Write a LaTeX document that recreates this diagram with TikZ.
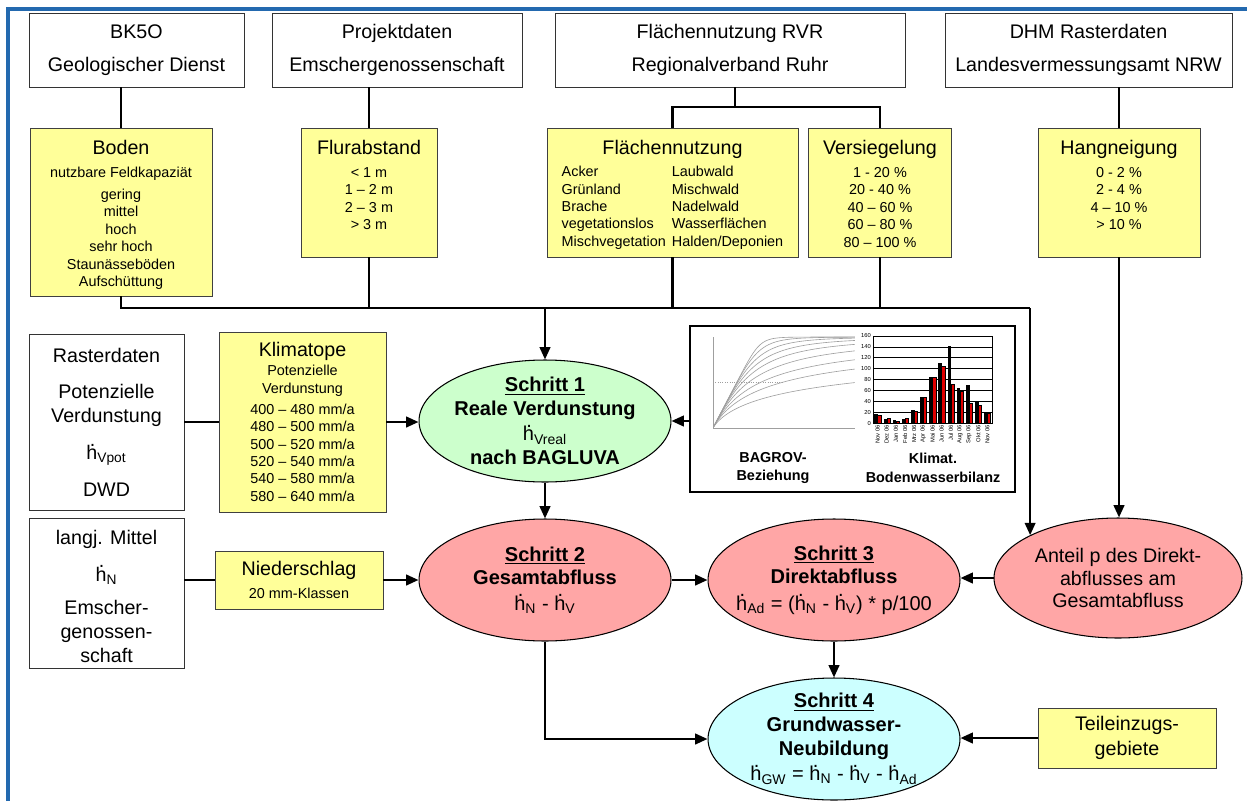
\documentclass[tikz,border=0pt]{standalone}
\usepackage{fontspec}
\setmainfont{Liberation Sans}
\usepackage{tikz}
\usetikzlibrary{arrows.meta,positioning,calc,shapes.geometric}
\usepackage{xcolor}
\definecolor{frameblue}{RGB}{35,105,175}
\definecolor{boxyellow}{RGB}{255,255,153}
\definecolor{stepgreen}{RGB}{204,255,204}
\definecolor{stepred}{RGB}{255,166,166}
\definecolor{stepcyan}{RGB}{204,255,255}
\definecolor{barred}{RGB}{225,0,0}

\newcommand{\hdt}{\makebox[0pt][l]{\hspace{0.17em}\raisebox{0.68em}{.}}h}
\newcommand{\bigf}{\fontsize{11.2}{13.8}\selectfont}
\newcommand{\smallf}{\fontsize{8.2}{9.9}\selectfont}

\begin{document}
\begin{tikzpicture}[x=0.02cm, y=-0.02cm,
    quelle/.style={draw=black!80, line width=0.5pt, fill=white, align=center, font=\bigf, inner sep=0pt},
    gelb/.style={draw=black!75, line width=0.5pt, fill=boxyellow, align=center, font=\smallf, inner sep=0pt},
    gelbtext/.style={align=center, font=\smallf, inner sep=0pt},
    schritt/.style={ellipse, draw=black, line width=0.6pt, align=center, inner sep=-25pt,
        minimum width=5.04cm, minimum height=2.44cm, font=\fontsize{11.4}{13.5}\selectfont\bfseries},
    verb/.style={line width=1.3pt},
    pfeil/.style={line width=1.3pt, -{Triangle[length=7pt,width=6pt]}}]

    \useasboundingbox (0,0) rectangle (1247,801);
    % Frame
    \draw[frameblue, line width=2.2pt] (8,801) -- (8,9) -- (1247,9);

    % Data sources
    \node[quelle, minimum width=4.3cm, minimum height=1.48cm] (bk) at (136.5,50) {BK5O\\[5pt]Geologischer Dienst};
    \node[quelle, minimum width=5cm, minimum height=1.48cm] (proj) at (397,50) {Projektdaten\\[5pt]Emschergenossenschaft};
    \node[quelle, minimum width=7cm, minimum height=1.48cm] (rvr) at (730,50) {Flächennutzung RVR\\[5pt]Regionalverband Ruhr};
    \node[quelle, minimum width=5.74cm, minimum height=1.48cm] (dhm) at (1088.5,50) {DHM Rasterdaten\\[5pt]Landesvermessungsamt NRW};

    % Parameters
    \node[gelb, minimum width=3.64cm, minimum height=3.36cm] (boden) at (121,212) {};
    \node[gelbtext, below=0.25cm of boden.north] (bodentxt)
        {{\bigf Boden}\\[3.1pt]nutzbare Feldkapaziät\\[2.6pt]gering\\mittel\\hoch\\sehr hoch\\Staunässeböden\\Aufschüttung};
    \node[gelb, minimum width=2.72cm, minimum height=2.58cm] (flur) at (369,192.5) {};
    \node[gelbtext, below=0.25cm of flur.north] (flurtxt)
        {{\bigf Flurabstand}\\[3.1pt]< 1 m\\1 – 2 m\\2 – 3 m\\> 3 m};
    \node[gelb, minimum width=5.02cm, minimum height=2.58cm] (flaeche) at (672.5,192.5) {};
    \node[gelbtext, below=0.25cm of flaeche.north] (flaechetxt)
        {{\bigf Flächennutzung}\\[2.6pt]\begin{tabular}[t]{@{}l@{\hspace{3.5pt}}l@{}}
        Acker & Laubwald\\Grünland & Mischwald\\Brache & Nadelwald\\
        vegetationslos & Wasserflächen\\Mischvegetation & Halden/Deponien\end{tabular}};
    \node[gelb, minimum width=2.86cm, minimum height=2.58cm] (versieg) at (880,192.5) {};
    \node[gelbtext, below=0.25cm of versieg.north] (versiegtxt)
        {{\bigf Versiegelung}\\[3.1pt]1 - 20 \%\\20 - 40 \%\\40 – 60 \%\\60 – 80 \%\\80 – 100 \%};
    \node[gelb, minimum width=3.24cm, minimum height=2.58cm] (hang) at (1119,192.5) {};
    \node[gelbtext, below=0.25cm of hang.north] (hangtxt)
        {{\bigf Hangneigung}\\[3.1pt]0 - 2 \%\\2 - 4 \%\\4 – 10 \%\\> 10 \%};

    \node[quelle, minimum width=3.1cm, minimum height=3.52cm] (raster) at (106.5,422)
        {Rasterdaten\\[6.8pt]Potenzielle\\Verdunstung\\[7.5pt]\hdt\textsubscript{Vpot}\\[6.8pt]DWD};
    \node[gelb, minimum width=3.34cm, minimum height=3.6cm] (klima) at (302.5,422)
        {{\bigf Klimatope}\\[0.9pt]Potenzielle\\Verdunstung\\[2pt]400 – 480 mm/a\\480 – 500 mm/a\\500 – 520 mm/a\\520 – 540 mm/a\\540 – 580 mm/a\\580 – 640 mm/a};
    \node[quelle, minimum width=3.1cm, minimum height=3cm] (langj) at (106.5,593) {};
    \node[align=center, font=\bigf, inner sep=0pt, below=0.24cm of langj.north] (langjtxt)
        {langj. Mittel\\[7.3pt]\hdt\textsubscript{N}\\[5pt]Emscher-\\genossen-\\schaft};
    \node[gelb, minimum width=3.36cm, minimum height=1.16cm] (nieder) at (299,580)
        {{\bigf Niederschlag}\\[3.1pt]20 mm-Klassen};
    \node[gelb, font=\bigf, minimum width=3.56cm, minimum height=1.2cm] (teil) at (1127,738) {Teileinzugs-\\gebiete};

    % Steps
    \node[schritt, fill=stepgreen] (s1) at (545,421)
        {\underline{Schritt 1}\\Reale Verdunstung\\[1pt]{\mdseries\hdt\textsubscript{Vreal}}\\nach BAGLUVA};
    \node[schritt, fill=stepred] (s2) at (545,580)
        {\underline{Schritt 2}\\Gesamtabfluss\\[1pt]{\mdseries\hdt\textsubscript{N} - \hdt\textsubscript{V}}};
    \node[schritt, fill=stepred] (s3) at (834,580)
        {\underline{Schritt 3}\\Direktabfluss\\[1.5pt]{\mdseries\hdt\textsubscript{Ad} = (\hdt\textsubscript{N} - \hdt\textsubscript{V}) * p/100}};
    \node[schritt, fill=stepred, font=\fontsize{11.2}{12.8}\selectfont, minimum width=4.96cm, minimum height=2.4cm] (anteil) at (1118,578)
        {Anteil p des Direkt-\\abflusses am\\Gesamtabfluss};
    \node[schritt, fill=stepcyan] (s4) at (834,739)
        {\underline{Schritt 4}\\Grundwasser-\\Neubildung\\[1pt]{\mdseries\hdt\textsubscript{GW} = \hdt\textsubscript{N} - \hdt\textsubscript{V} - \hdt\textsubscript{Ad}}};

    % Charts
    \node[draw=black, line width=1.1pt, fill=white, minimum width=6.5cm, minimum height=3.32cm, inner sep=0pt] (bagrov) at (852.5,409) {};
    \begin{scope}[shift={(713,428)}, x=0.946cm, y=1.82cm, gray!75, line width=0.35pt]
        \draw (0,0) -- (3,0);
        \draw (0,0) -- (0,1);
        \draw[densely dotted] (0,0.5) -- (1.5,0.5);
        \foreach \n in {0.6,0.8,1,1.3,1.7,2.2,3,4.5,8}
            \draw plot[domain=0.02:3, samples=50, smooth] (\x, {\x/pow(1+pow(\x,\n),1/\n)});
    \end{scope}
    \begin{scope}[shift={(873,423)}, x=0.183cm, y=0.01088cm]
        \foreach \v in {0,20,...,160} {
            \draw[line width=0.3pt] (0,\v) -- (13,\v);
            \node[anchor=east, inner sep=1pt, font=\fontsize{3.3}{3.3}\selectfont] at (0,\v) {\v};
        }
        \draw[line width=0.4pt] (0,0) rectangle (13,160);
        \foreach \b/\r/\m [count=\i from 0] in {16/15/Nov 06, 8/8/Dez 06, 5/4/Jan 06, 8/8/Feb 06, 23/22/Mrz 06,
                48/48/Apr 06, 84/84/Mai 06, 110/104/Jun 06, 142/71/Jul 06, 64/59/Aug 06, 69/36/Sep 06,
                41/33/Okt 06, 21/18/Nov 06} {
            \fill (\i+0.15,0) rectangle (\i+0.55,\b);
            \draw[fill=barred, line width=0.2pt] (\i+0.5,0) rectangle (\i+0.85,\r);
            \node[rotate=90, anchor=east, inner sep=1pt, font=\fontsize{3.3}{3.3}\selectfont] at (\i+0.5,0) {\m};
        }
    \end{scope}
    \node[font=\fontsize{8.2}{10.8}\selectfont\bfseries, align=center] (bagrovtxt) at (773,468) {BAGROV-\\Beziehung};
    \node[font=\fontsize{8.2}{10.8}\selectfont\bfseries, align=center] (bilanztxt) at (933,468) {Klimat.\\Bodenwasserbilanz};

    % Connections
    \draw[verb] (bk.south -| boden.north) -- (boden.north);
    \draw[verb] (proj.south -| flur.north) -- (flur.north);
    \coordinate (rvrsplit) at (735,107);
    \draw[verb] (rvr.south -| rvrsplit) -- (rvrsplit);
    \draw[verb] (flaeche.north) |- (rvrsplit) -| (versieg.north);
    \draw[verb] (dhm.south -| hang.north) -- (hang.north);

    \coordinate (bus) at (545,308);
    \draw[verb] (boden.south) |- (anteil.154 |- bus);
    \draw[verb] (flur.south) -- (flur.south |- bus);
    \draw[verb] (flaeche.south) -- (flaeche.south |- bus);
    \draw[verb] (versieg.south) -- (versieg.south |- bus);
    \draw[pfeil] (anteil.154 |- bus) -- (anteil.154);
    \draw[pfeil] (bus) -- (s1.north);
    \draw[pfeil] (hang.south) -- (hang.south |- anteil.north);

    \draw[verb] (raster.east) -- (klima.west);
    \draw[pfeil] (klima.east) -- (klima.east -| s1.west);
    \draw[pfeil] (bagrov.west |- s1.east) -- (s1.east);
    \draw[verb] (langj.east |- nieder.west) -- (nieder.west);
    \draw[pfeil] (nieder.east) -- (s2.west);
    \draw[pfeil] (s1.south) -- (s2.north);
    \draw[pfeil] (s2.east) -- (s3.west);
    \draw[pfeil] (anteil.west) -- (anteil.west -| s3.east);
    \draw[pfeil] (s3.south) -- (s4.north);
    \draw[pfeil] (s2.south) |- (s4.west);
    \draw[pfeil] (teil.west) -- (teil.west -| s4.east);
\end{tikzpicture}
\end{document}
